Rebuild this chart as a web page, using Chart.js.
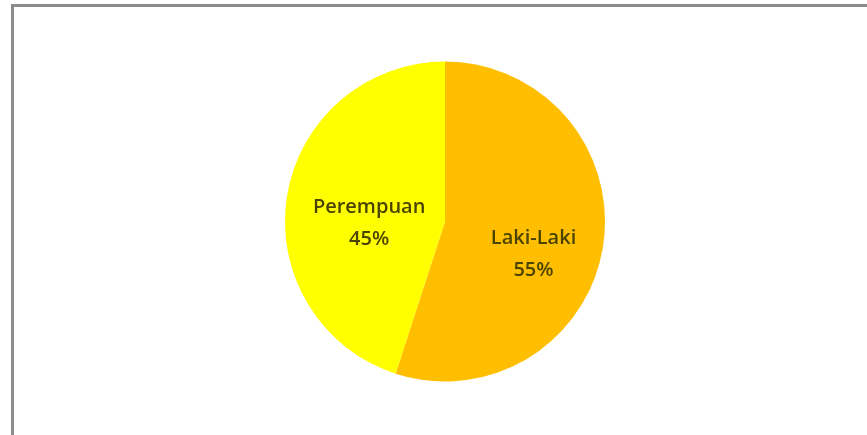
<!DOCTYPE html>
<html>
<head>
<meta charset="utf-8">
<script src="https://cdn.jsdelivr.net/npm/chart.js@4.4.1/dist/chart.umd.min.js"></script>
<style>
    html, body { margin: 0; padding: 0; background: #fff; overflow: hidden; }
    #frame {
        position: absolute; left: 11px; top: 4px; width: 900px; height: 480px;
        border-left: 3px solid #8c8c8c; border-top: 3px solid #8c8c8c;
    }
    #wrap { position: absolute; left: 0; top: 0; width: 867px; height: 435px; }
</style>
</head>
<body>
<div id="frame"></div>
<div id="wrap"><canvas id="pieChart" width="867" height="435"></canvas></div>
<script>
let labels = ['Laki-Laki', 'Perempuan'];
let values = [55, 45];
let colors = ['#FFBF00', '#FFFF00'];

// how far out along the slice the label sits, and a vertical nudge
let labelDist = [0.56, 0.48];
let labelShift = [19, 14];

let sliceLabels = {
    id: 'sliceLabels',
    afterDatasetsDraw(chart) {
        let ctx = chart.ctx;
        let meta = chart.getDatasetMeta(0);
        let total = values.reduce((a, b) => a + b, 0);
        ctx.save();
        ctx.fillStyle = '#4a4400';
        ctx.font = '600 20px "Open Sans"';
        ctx.textAlign = 'center';
        ctx.textBaseline = 'middle';
        meta.data.forEach((arc, i) => {
            let p = arc.getProps(['x', 'y', 'startAngle', 'endAngle', 'outerRadius'], true);
            let mid = (p.startAngle + p.endAngle) / 2;
            let x = p.x + Math.cos(mid) * p.outerRadius * labelDist[i];
            let y = p.y + Math.sin(mid) * p.outerRadius * labelDist[i] + labelShift[i];
            let pct = Math.round(values[i] / total * 100) + '%';
            ctx.fillText(labels[i], x, y - 16);
            ctx.fillText(pct, x, y + 16);
        });
        ctx.restore();
    }
};

let ctx = document.getElementById('pieChart').getContext('2d');
let chart = new Chart(ctx, {
    type: 'pie',
    data: {
        labels: labels,
        datasets: [{
            data: values,
            backgroundColor: colors,
            borderWidth: 0
        }]
    },
    options: {
        responsive: false,
        animation: false,
        layout: { padding: { left: 285, right: 262, top: 61, bottom: 53 } },
        plugins: {
            legend: { display: false },
            tooltip: { enabled: false }
        }
    },
    plugins: [sliceLabels]
});
</script>
</body>
</html>
